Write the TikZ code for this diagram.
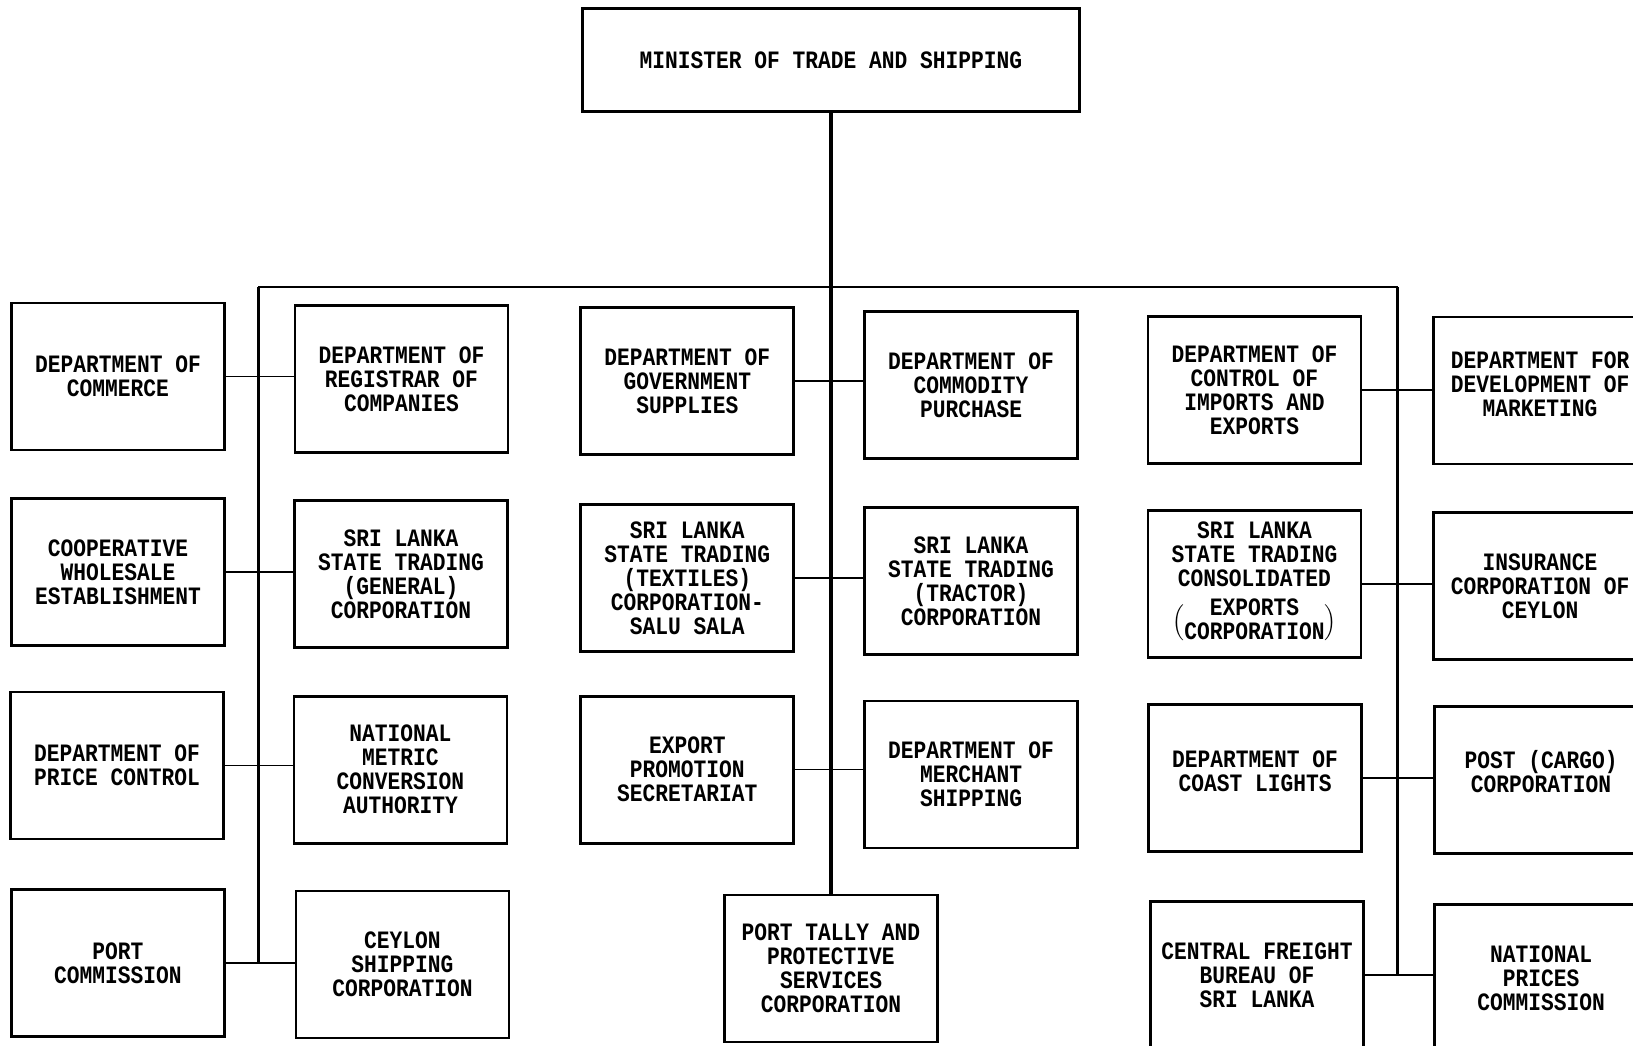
\documentclass[tikz,border=0pt]{standalone}
\usepackage{fontspec}
\newfontfamily\chartfont[FakeStretch=0.85]{Liberation Mono}
\begin{document}
\begin{tikzpicture}[x=0.5pt,y=-0.5pt,
  box/.style={draw, line width=1.4pt, minimum width=106.5pt, minimum height=73.5pt,
    inner sep=2pt, align=center, font={\chartfont\bfseries\fontsize{12.5}{12}\selectfont}},
  conn/.style={line width=0.7pt},
  trunk/.style={line width=2pt},
  branch/.style={line width=1.5pt},
  bus/.style={line width=0.9pt}]
\useasboundingbox (0,0) rectangle (1633,1045);
\fill[white] (0,0) rectangle (1633,1045);
\clip (0,0) rectangle (1633,1045);

% top
\node[box, minimum width=248.5pt, minimum height=51.5pt] (min) at (831,60) {MINISTER OF TRADE AND SHIPPING};

% column 1
\node[box] (com)  at (118,376.5) {DEPARTMENT OF\\COMMERCE};
\node[box] (coop) at (118,572)   {COOPERATIVE\\WHOLESALE\\ESTABLISHMENT};
\node[box] (prc)  at (117,765.5) {DEPARTMENT OF\\PRICE CONTROL};
\node[box] (pc)   at (118,963)   {PORT\\COMMISSION};
% column 2
\node[box] (reg)  at (401.5,379) {DEPARTMENT OF\\REGISTRAR OF\\COMPANIES};
\node[box] (slg)  at (401,574)   {SRI LANKA\\STATE TRADING\\(GENERAL)\\CORPORATION};
\node[box] (nmca) at (400.5,769.6) {NATIONAL\\METRIC\\CONVERSION\\AUTHORITY};
\node[box] (csc)  at (402.5,964.4) {CEYLON\\SHIPPING\\CORPORATION};
% column 3
\node[box] (gs)   at (687.3,381) {DEPARTMENT OF\\GOVERNMENT\\SUPPLIES};
\node[box] (tex)  at (687.3,578) {SRI LANKA\\STATE TRADING\\(TEXTILES)\\CORPORATION-\\SALU SALA};
\node[box] (eps)  at (687.3,769.6) {EXPORT\\PROMOTION\\SECRETARIAT};
% column 4
\node[box] (cp)   at (971,385.3) {DEPARTMENT OF\\COMMODITY\\PURCHASE};
\node[box] (trac) at (971,581)   {SRI LANKA\\STATE TRADING\\(TRACTOR)\\CORPORATION};
\node[box] (ms)   at (971,774.5) {DEPARTMENT OF\\MERCHANT\\SHIPPING};
% centre bottom
\node[box] (tally) at (831,968.5) {PORT TALLY AND\\PROTECTIVE\\SERVICES\\CORPORATION};
% column 5
\node[box] (cie)  at (1254.4,390) {DEPARTMENT OF\\CONTROL OF\\IMPORTS AND\\EXPORTS};
\node[box] (slce) at (1254.4,584) {SRI LANKA\\STATE TRADING\\CONSOLIDATED\\[5pt]$\Big(\begin{tabular}{@{}c@{}}EXPORTS\\CORPORATION\end{tabular}\Big)$};
\node[box] (cl)   at (1255,778)   {DEPARTMENT OF\\COAST LIGHTS\\[-4.7pt]};
\node[box] (cf)   at (1257,975)   {CENTRAL FREIGHT\\BUREAU OF\\SRI LANKA};
% column 6
\node[box] (dfm)  at (1540,390.5) {DEPARTMENT FOR\\DEVELOPMENT OF\\MARKETING\\[-5.8pt]};
\node[box] (ins)  at (1540,586)   {INSURANCE\\CORPORATION OF\\CEYLON};
\node[box] (post) at (1541,780)   {POST (CARGO)\\CORPORATION\\[-3.2pt]};
\node[box] (npc)  at (1541,978)   {NATIONAL\\PRICES\\COMMISSION};

% trunk lines
\coordinate (busL) at (258.3,287);
\coordinate (busR) at (1397.6,287);
\draw[trunk] (min.south) -- (tally.north);
\draw[bus] (busL) -- (busR);
\draw[branch] (busL) -- (busL |- pc.east);
\draw[branch] (busR) -- (busR |- cf.east);

% horizontal connectors
\draw[conn] (com.east)  -- (com.east -| reg.west);
\draw[conn] (coop.east) -- (coop.east -| slg.west);
\draw[conn] (prc.east)  -- (prc.east -| nmca.west);
\draw[conn] (pc.east)   -- (pc.east -| csc.west);
\draw[conn] (gs.east)   -- (gs.east -| cp.west);
\draw[conn] (tex.east)  -- (tex.east -| trac.west);
\draw[conn] (eps.east)  -- (eps.east -| ms.west);
\draw[conn] (cie.east)  -- (cie.east -| dfm.west);
\draw[conn] (slce.east) -- (slce.east -| ins.west);
\draw[conn] (cl.east)   -- (cl.east -| post.west);
\draw[conn] (cf.east)   -- (cf.east -| npc.west);
\end{tikzpicture}
\end{document}
